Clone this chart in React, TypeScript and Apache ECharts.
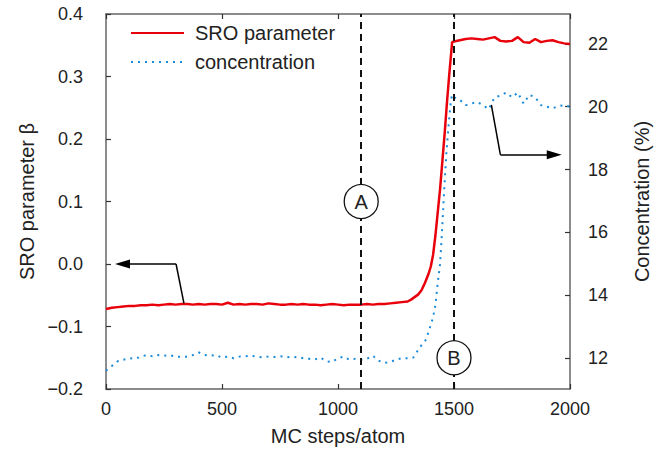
import React, { useEffect, useRef } from "react";
import * as echarts from "echarts";

const FONT = "'Liberation Sans', Arial, Helvetica, sans-serif";
const TEXT = "#222";
const AXIS = "#666";

const xTicks = [0, 500, 1000, 1500, 2000];
const concTicks = [12, 14, 16, 18, 20, 22];

const sroSteps = [
  0, 25, 50, 75, 100, 125, 150, 175, 200, 225, 250, 275, 300, 325, 350, 375, 400, 425, 450, 475,
  500, 525, 550, 575, 600, 625, 650, 675, 700, 725, 750, 775, 800, 825, 850, 875, 900, 925, 950, 975,
  1000, 1025, 1050, 1075, 1100, 1125, 1150, 1175, 1200, 1225, 1250, 1275, 1300, 1315, 1330, 1345,
  1360, 1375, 1390, 1400, 1410, 1420, 1430, 1440, 1450, 1460, 1470, 1480, 1492, 1500, 1525, 1550,
  1575, 1600, 1625, 1650, 1675, 1700, 1725, 1750, 1775, 1800, 1825, 1850, 1875, 1900, 1925, 1950,
  1975, 2000,
];
const sroValues = [
  -0.072, -0.07, -0.069, -0.068, -0.067, -0.067, -0.066, -0.066, -0.065, -0.066, -0.065, -0.064,
  -0.065, -0.064, -0.064, -0.065, -0.064, -0.065, -0.064, -0.064, -0.065, -0.062, -0.065, -0.064,
  -0.065, -0.064, -0.064, -0.065, -0.063, -0.064, -0.065, -0.065, -0.064, -0.065, -0.064, -0.065,
  -0.065, -0.066, -0.065, -0.064, -0.065, -0.066, -0.065, -0.065, -0.065, -0.064, -0.065, -0.064,
  -0.064, -0.063, -0.062, -0.061, -0.06, -0.057, -0.053, -0.049, -0.042, -0.03, -0.016, -0.004,
  0.015, 0.046, 0.083, 0.12, 0.165, 0.21, 0.26, 0.305, 0.355, 0.356, 0.358, 0.36, 0.361, 0.36,
  0.359, 0.361, 0.363, 0.357, 0.356, 0.357, 0.363, 0.355, 0.354, 0.36, 0.355, 0.357, 0.358, 0.355,
  0.353, 0.352,
];

const concSteps = [
  0, 25, 50, 75, 100, 125, 150, 175, 200, 225, 250, 275, 300, 325, 350, 375, 400, 425, 450, 475,
  500, 525, 550, 575, 600, 625, 650, 675, 700, 725, 750, 775, 800, 825, 850, 875, 900, 925, 950, 975,
  1000, 1025, 1050, 1075, 1100, 1125, 1150, 1175, 1200, 1225, 1250, 1275, 1300, 1325, 1340, 1350,
  1365, 1380, 1395, 1410, 1420, 1430, 1440, 1448, 1458, 1467, 1477, 1487, 1492, 1500, 1525, 1550,
  1575, 1600, 1625, 1650, 1675, 1700, 1725, 1750, 1775, 1800, 1825, 1850, 1875, 1900, 1925, 1950,
  1975, 2000,
];
const concValues = [
  11.6, 11.75, 11.9, 11.95, 12.0, 11.98, 12.05, 12.1, 12.06, 12.1, 12.08, 12.1, 12.05, 12.04, 12.05,
  12.1, 12.18, 12.1, 12.08, 12.1, 12.02, 12.05, 12.0, 12.05, 12.06, 12.08, 12.05, 12.03, 12.05,
  12.04, 12.06, 12.05, 12.02, 12.04, 12.0, 11.98, 11.96, 12.02, 11.9, 11.88, 12.0, 12.05, 11.95,
  11.98, 11.95, 11.98, 12.08, 11.92, 11.85, 11.88, 11.95, 12.0, 12.0, 12.02, 12.2, 12.33, 12.45,
  12.6, 12.95, 13.3, 13.7, 14.4, 15.0, 15.98, 17.4, 18.5, 19.45, 20.2, 20.38, 20.3, 20.22, 20.05,
  20.1, 20.15, 20.05, 19.92, 20.3, 20.35, 20.45, 20.3, 20.45, 20.1, 20.38, 20.3, 20.05, 20.0, 19.95,
  20.02, 20.05, 20.0,
];

const phaseSteps = [1100, 1500];
const markerLabels = ["A", "B"];
const markerSro = [0.1, -0.15];

// annotation arrows: [step, value] points (last point = arrowhead centre)
const sroArrow = [
  [336, -0.063],
  [302, 0.0],
  [71, 0.0],
];
const concArrow = [
  [1661, 20.06],
  [1700, 18.47],
  [1932, 18.47],
];

const fmtMinus = (v: number, d: number) => {
  const s = Math.abs(v) < 1e-9 ? (0).toFixed(d) : v.toFixed(d);
  return s.replace("-", "\u2212");
};

const arrowLine = (pts: number[][]) => [
  [
    { coord: pts[0], symbol: "none" },
    { coord: pts[1], symbol: "none" },
  ],
  [
    { coord: pts[1], symbol: "none" },
    { coord: pts[2], symbol: "triangle", symbolSize: [9, 15] },
  ],
];

export default function App() {
  const ref = useRef<HTMLDivElement>(null);
  useEffect(() => {
    if (!ref.current) return;
    const chart = echarts.init(ref.current, null, { renderer: "svg" });
    const axisLine = { show: true, onZero: false, lineStyle: { color: AXIS, width: 1.5 } };
    const tick = { show: true, inside: true, length: 5, lineStyle: { color: "#333", width: 1.2 } };
    chart.setOption({
      animation: false,
      backgroundColor: "#fff",
      textStyle: { fontFamily: FONT },
      grid: { left: 106, right: 93, top: 14, bottom: 66, containLabel: false },
      legend: {
        data: ["SRO parameter", "concentration"],
        orient: "vertical",
        left: 130,
        top: 23,
        padding: 0,
        itemWidth: 53,
        itemHeight: 14,
        itemGap: 9,
        itemStyle: { opacity: 0 },
        textStyle: { fontSize: 20, color: TEXT, fontFamily: FONT, padding: [0, 0, 0, 6] },
      },
      xAxis: [
        {
          type: "value",
          position: "bottom",
          min: 0,
          max: 2000,
          interval: 500,
          axisLine,
          axisTick: tick,
          splitLine: { show: false },
          axisLabel: {
            fontSize: 18,
            color: TEXT,
            margin: 11,
            fontFamily: FONT,
            formatter: (v: number) => String(v),
          },
          name: "MC steps/atom",
          nameLocation: "middle",
          nameGap: 37,
          nameTextStyle: { fontSize: 20, color: TEXT, fontFamily: FONT },
        },
        {
          type: "value",
          position: "top",
          min: 0,
          max: 2000,
          interval: 500,
          axisLine,
          axisTick: tick,
          splitLine: { show: false },
          axisLabel: { show: false },
        },
      ],
      yAxis: [
        {
          type: "value",
          position: "left",
          min: -0.2,
          max: 0.4,
          interval: 0.1,
          axisLine,
          axisTick: tick,
          splitLine: { show: false },
          axisLabel: {
            fontSize: 18,
            color: TEXT,
            margin: 23,
            fontFamily: FONT,
            formatter: (v: number) => fmtMinus(v, 1),
          },
          name: "SRO parameter \u03b2",
          nameLocation: "middle",
          nameRotate: 90,
          nameGap: 68,
          nameTextStyle: { fontSize: 20, color: TEXT, fontFamily: FONT },
        },
        {
          type: "value",
          position: "right",
          min: 11.02,
          max: 22.95,
          axisLine,
          axisTick: { ...tick, customValues: concTicks },
          splitLine: { show: false },
          axisLabel: {
            fontSize: 18,
            color: TEXT,
            margin: 18,
            fontFamily: FONT,
            customValues: concTicks,
            formatter: (v: number) => String(Math.round(v)),
          },
          name: "Concentration (%)",
          nameLocation: "middle",
          nameRotate: 90,
          nameGap: 62,
          nameTextStyle: { fontSize: 20, color: TEXT, fontFamily: FONT },
        },
      ],
      series: [
        {
          name: "guides",
          type: "line",
          data: [],
          xAxisIndex: 0,
          yAxisIndex: 0,
          z: 1,
          markLine: {
            silent: true,
            animation: false,
            symbol: ["none", "none"],
            label: { show: false },
            lineStyle: { color: "#111", width: 2, type: [7, 5] },
            data: phaseSteps.map((s) => ({ xAxis: s })),
          },
        },
        {
          name: "SRO parameter",
          type: "line",
          xAxisIndex: 0,
          yAxisIndex: 0,
          symbol: "none",
          showSymbol: false,
          z: 3,
          lineStyle: { color: "#e8000b", width: 2.5 },
          itemStyle: { color: "#e8000b" },
          data: sroSteps.map((s, i) => [s, sroValues[i]]),
          markLine: {
            silent: true,
            animation: false,
            label: { show: false },
            lineStyle: { color: "#000", width: 1.5, type: "solid" },
            itemStyle: { color: "#000", opacity: 1 },
            data: arrowLine(sroArrow),
          },
        },
        {
          name: "concentration",
          type: "line",
          xAxisIndex: 0,
          yAxisIndex: 1,
          symbol: "none",
          showSymbol: false,
          z: 3,
          clip: false,
          lineStyle: { color: "#1a8ad8", width: 2, type: [2, 5] },
          itemStyle: { color: "#1a8ad8" },
          data: concSteps.map((s, i) => [s, concValues[i]]),
          markLine: {
            silent: true,
            animation: false,
            label: { show: false },
            lineStyle: { color: "#000", width: 1.5, type: "solid" },
            itemStyle: { color: "#000", opacity: 1 },
            data: arrowLine(concArrow),
          },
        },
        {
          name: "markers",
          type: "line",
          data: [],
          xAxisIndex: 0,
          yAxisIndex: 0,
          z: 6,
          markPoint: {
            silent: true,
            animation: false,
            symbol: "circle",
            symbolSize: 34,
            itemStyle: { color: "#fff", borderColor: "#111", borderWidth: 1.3 },
            label: { show: true, position: "inside", color: TEXT, fontSize: 20, fontFamily: FONT },
            data: phaseSteps.map((s, i) => ({
              coord: [s, markerSro[i]],
              value: markerLabels[i],
              label: { formatter: markerLabels[i] },
            })),
          },
        },
      ],
    });
    return () => chart.dispose();
  }, []);
  return (
    <div
      ref={ref}
      style={{ position: "fixed", left: 0, top: 0, width: 663, height: 455, background: "#fff" }}
    />
  );
}
